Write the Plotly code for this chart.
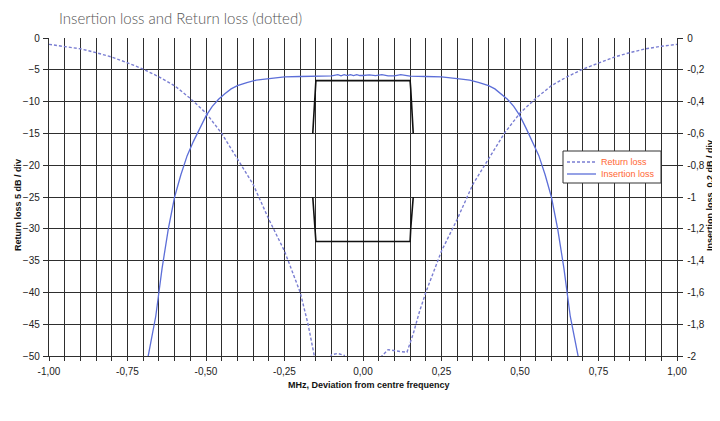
import plotly.graph_objects as go

# ---------------- data ----------------
il_x_left = [-0.70, -0.684, -0.66, -0.64, -0.62, -0.60, -0.58, -0.56, -0.54, -0.52, -0.50,
             -0.48, -0.46, -0.44, -0.42, -0.40, -0.37, -0.34, -0.30, -0.25, -0.20, -0.15,
             -0.10, -0.08, -0.07, -0.06, -0.05, -0.04, -0.03, -0.02, -0.01]
il_y_left = [-2.15, -2.0, -1.75, -1.45, -1.2, -1.0, -0.86, -0.74, -0.65, -0.57, -0.49,
             -0.43, -0.385, -0.35, -0.32, -0.30, -0.28, -0.265, -0.255, -0.245, -0.242, -0.240,
             -0.238, -0.231, -0.238, -0.230, -0.237, -0.230, -0.236, -0.231, -0.236]
il_x_right = [0.00, 0.02, 0.04, 0.06, 0.08, 0.10, 0.12, 0.14, 0.15, 0.20, 0.25, 0.30, 0.34,
              0.37, 0.40, 0.42, 0.44, 0.46, 0.48, 0.50, 0.52, 0.54, 0.56, 0.58, 0.60, 0.62,
              0.64, 0.66, 0.684, 0.70]
il_y_right = [-0.236, -0.232, -0.237, -0.231, -0.238, -0.238, -0.230, -0.238, -0.240, -0.242,
              -0.245, -0.255, -0.265, -0.28, -0.30, -0.32, -0.35, -0.385, -0.43, -0.49, -0.57,
              -0.65, -0.74, -0.86, -1.0, -1.2, -1.45, -1.75, -2.0, -2.15]
il_x = il_x_left + il_x_right
il_y = il_y_left + il_y_right

rl_x = [-1.00, -0.95, -0.90, -0.85, -0.80, -0.75, -0.70, -0.65, -0.60, -0.55, -0.50, -0.45,
        -0.40, -0.35, -0.30, -0.25, -0.20, -0.175, -0.155, -0.14, -0.12, -0.10, -0.08, -0.06,
        -0.04, 0.00, 0.04, 0.06, 0.08, 0.10, 0.12, 0.14, 0.16, 0.18, 0.20, 0.25, 0.30, 0.35,
        0.40, 0.45, 0.50, 0.55, 0.60, 0.65, 0.70, 0.75, 0.80, 0.85, 0.90, 0.95, 1.00]
rl_y = [-1.0, -1.3, -1.7, -2.3, -3.0, -3.9, -4.9, -6.1, -7.5, -9.5, -11.8, -15.0,
        -19.0, -23.0, -28.5, -33.5, -40.0, -45.0, -50.0, -53.0, -52.0, -49.8, -49.6, -49.9,
        -53.0, -56.0, -53.0, -50.0, -49.0, -49.2, -49.3, -49.4, -46.5, -43.0, -40.0, -33.5,
        -28.5, -23.0, -19.0, -15.0, -11.8, -9.5, -7.5, -6.1, -4.9, -3.9, -3.0, -2.3, -1.7,
        -1.3, -1.0]

mask_x = [-0.16, -0.152, -0.15, -0.15, 0.15, 0.15, 0.152, 0.16, None,
          -0.16, -0.152, -0.15, -0.15, 0.15, 0.15, 0.152, 0.16]
mask_y = [-15.0, -8.0, -6.7, -6.7, -6.7, -6.7, -8.0, -15.0, None,
          -25.0, -30.0, -32.0, -32.0, -32.0, -32.0, -30.0, -25.0]

x_ticks = [round(-1 + 0.05 * i, 2) for i in range(41)]
x_labels = ["-1,00", "-0,75", "-0,50", "-0,25", "0,00", "0,25", "0,50", "0,75", "1,00"]
y_ticks = [0, -5, -10, -15, -20, -25, -30, -35, -40, -45, -50]
y2_ticks = [0, -0.2, -0.4, -0.6, -0.8, -1, -1.2, -1.4, -1.6, -1.8, -2]
y2_labels = ["0", "-0,2", "-0,4", "-0,6", "-0,8", "-1", "-1,2", "-1,4", "-1,6", "-1,8", "-2"]
series_names = ["Return loss", "Insertion loss"]

# ---------------- figure ----------------
x_text = []
j = 0
for i, v in enumerate(x_ticks):
    if i % 5 == 0:
        x_text.append(x_labels[j]); j += 1
    else:
        x_text.append("")

RL_COL = "#7A7ED2"
IL_COL = "#5C6ED8"
RL_DASH = "3px,2px"

fig = go.Figure()
fig.add_trace(go.Scatter(x=rl_x, y=rl_y, mode="lines", name=series_names[0],
                         line=dict(color=RL_COL, width=1.4, dash=RL_DASH)))
fig.add_trace(go.Scatter(x=il_x, y=il_y, mode="lines", name=series_names[1], yaxis="y2",
                         line=dict(color=IL_COL, width=1.3)))
fig.add_trace(go.Scatter(x=mask_x, y=mask_y, mode="lines", showlegend=False,
                         line=dict(color="#111111", width=1.6), hoverinfo="skip"))

grid_col = "#2e2e2e"
tickfont = dict(family="Arial, Liberation Sans", size=10, color="#222")

# page body has an 8px margin: figure is drawn 8px right/down of the window origin
OFF = 8
W, H = 720 - OFF, 421 - OFF
PL, PR, PT, PB = 49, 677, 38, 356          # plot area in window pixels
L, R, T, B = PL - OFF, W - (PR - OFF), PT - OFF, H - (PB - OFF)
pw, ph = W - L - R, H - T - B


def px(wx):
    return (wx - OFF - L) / pw


def py(wy):
    return (H - B - (wy - OFF)) / ph


fig.update_layout(
    width=W, height=H,
    margin=dict(l=L, r=R, t=T, b=B),
    paper_bgcolor="white", plot_bgcolor="white",
    showlegend=False,
    xaxis=dict(range=[-1, 1], tickvals=x_ticks, ticktext=x_text, showgrid=True,
               gridcolor=grid_col, gridwidth=1.4, zeroline=False, showline=True,
               linecolor=grid_col, linewidth=1.4, ticks="outside", ticklen=4,
               tickcolor=grid_col, tickfont=tickfont, ticklabelstandoff=2),
    yaxis=dict(range=[-50, 0], tickvals=y_ticks, showgrid=True, gridcolor=grid_col,
               gridwidth=1.4, zeroline=False, showline=True, linecolor=grid_col,
               linewidth=1.4, ticks="outside", ticklen=5, tickcolor=grid_col,
               tickfont=tickfont, ticklabelstandoff=1),
    yaxis2=dict(range=[-2, 0], tickvals=y2_ticks, ticktext=y2_labels, overlaying="y",
                side="right", showgrid=False, zeroline=False, showline=True,
                linecolor=grid_col, linewidth=1.4, ticks="outside", ticklen=5,
                tickcolor=grid_col, tickfont=tickfont, ticklabelstandoff=2),
)

# manual compact legend (box + samples + labels)
fig.add_shape(type="rect", xref="paper", yref="paper", x0=px(563), x1=px(661),
              y0=py(183), y1=py(151), line=dict(color="#333", width=1), fillcolor="white",
              layer="above")
fig.add_shape(type="line", xref="paper", yref="paper", x0=px(567), x1=px(596),
              y0=py(162), y1=py(162), line=dict(color=RL_COL, width=1.4, dash=RL_DASH),
              layer="above")
fig.add_shape(type="line", xref="paper", yref="paper", x0=px(567), x1=px(596),
              y0=py(174), y1=py(174), line=dict(color=IL_COL, width=1.3), layer="above")
for name, yy in zip(series_names, [162, 174]):
    fig.add_annotation(text=name, xref="paper", yref="paper", x=px(599), y=py(yy),
                       xanchor="left", yanchor="middle", showarrow=False,
                       font=dict(family="Arial, Liberation Sans", size=9, color="#FF6633"))

fig.add_annotation(text="Insertion loss and Return loss (dotted)", xref="paper", yref="paper",
                   x=px(57), y=py(18), xanchor="left", yanchor="middle",
                   showarrow=False, font=dict(family="Lato", size=15, color="#555", weight=300))
fig.add_annotation(text="<b>Return loss 5 dB / div</b>", xref="paper", yref="paper",
                   x=px(18), y=py(205), textangle=-90, showarrow=False,
                   xanchor="center", yanchor="middle",
                   font=dict(family="Arial, Liberation Sans", size=9, color="#111"))
fig.add_annotation(text="<b>Insertion loss  0,2 dB / div</b>", xref="paper", yref="paper",
                   x=px(710), y=py(196), textangle=-90, showarrow=False,
                   xanchor="center", yanchor="middle",
                   font=dict(family="Arial, Liberation Sans", size=9, color="#111"))
fig.add_annotation(text="<b>MHz, Deviation from centre frequency</b>", xref="paper", yref="paper",
                   x=px(369), y=py(385), showarrow=False,
                   xanchor="center", yanchor="middle",
                   font=dict(family="Arial, Liberation Sans", size=9, color="#111"))

fig.write_html("out.html")
